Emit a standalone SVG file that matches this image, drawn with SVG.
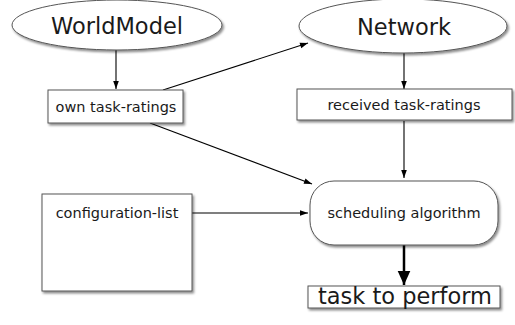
<svg xmlns="http://www.w3.org/2000/svg" width="515" height="325" viewBox="0 0 515 325">
<style>
text{font-family:"DejaVu Sans",Verdana,sans-serif;fill:#1a1a1a;text-anchor:middle}
.shape{fill:#fff;stroke:#555;stroke-width:1;filter:url(#sh)}
.big{font-size:22.5px}
.sm{font-size:14.5px}
.edge{stroke:#000;stroke-width:1.1;fill:none;marker-end:url(#ah)}
.thick{stroke:#000;stroke-width:2.5;fill:none;marker-end:url(#ahb)}
</style>
<defs>
<filter id="sh" x="-10%" y="-10%" width="130%" height="140%">
<feDropShadow dx="1.5" dy="2" stdDeviation="1.2" flood-color="#000" flood-opacity="0.45"/>
</filter>
<marker id="ah" viewBox="0 0 10 10" refX="10" refY="5" markerWidth="11" markerHeight="8" markerUnits="userSpaceOnUse" orient="auto">
<path d="M0,1.5 L10,5 L0,8.5 Z" fill="#000"/>
</marker>
<marker id="ahb" viewBox="0 0 10 10" refX="10" refY="5" markerWidth="20" markerHeight="14" markerUnits="userSpaceOnUse" orient="auto">
<path d="M0,0.5 L10,5 L0,9.5 Z" fill="#000"/>
</marker>
</defs>
<g id="connectors">
<line class="edge" x1="116" y1="50" x2="116" y2="89"/>
<line class="edge" x1="404" y1="53" x2="404" y2="89"/>
<line class="edge" x1="163" y1="90" x2="308" y2="43"/>
<line class="edge" x1="150" y1="123" x2="312" y2="184"/>
<line class="edge" x1="404" y1="121" x2="404" y2="178"/>
<line class="edge" x1="192" y1="213" x2="308" y2="213"/>
<line class="thick" x1="404" y1="245" x2="404" y2="285"/>
</g>
<g id="worldmodel">
<ellipse class="shape" cx="117" cy="25" rx="105" ry="25"/>
<text class="big" x="117" y="34">WorldModel</text>
</g>
<g id="network">
<ellipse class="shape" cx="403" cy="26" rx="104" ry="27"/>
<text class="big" x="404" y="35">Network</text>
</g>
<g id="own">
<rect class="shape" x="48" y="90" width="135" height="33"/>
<text class="sm" x="116" y="112">own task-ratings</text>
</g>
<g id="received">
<rect class="shape" x="297" y="89" width="215" height="31"/>
<text class="sm" x="404" y="110">received task-ratings</text>
</g>
<g id="config">
<rect class="shape" x="42" y="194" width="150" height="97"/>
<text class="sm" x="117" y="218">configuration-list</text>
</g>
<g id="scheduling">
<rect class="shape" x="310" y="181" width="188" height="64" rx="24" ry="24"/>
<text class="sm" x="404" y="218">scheduling algorithm</text>
</g>
<g id="task">
<rect class="shape" x="308" y="286" width="192" height="22"/>
<text class="big" x="405" y="304">task to perform</text>
</g>
</svg>
